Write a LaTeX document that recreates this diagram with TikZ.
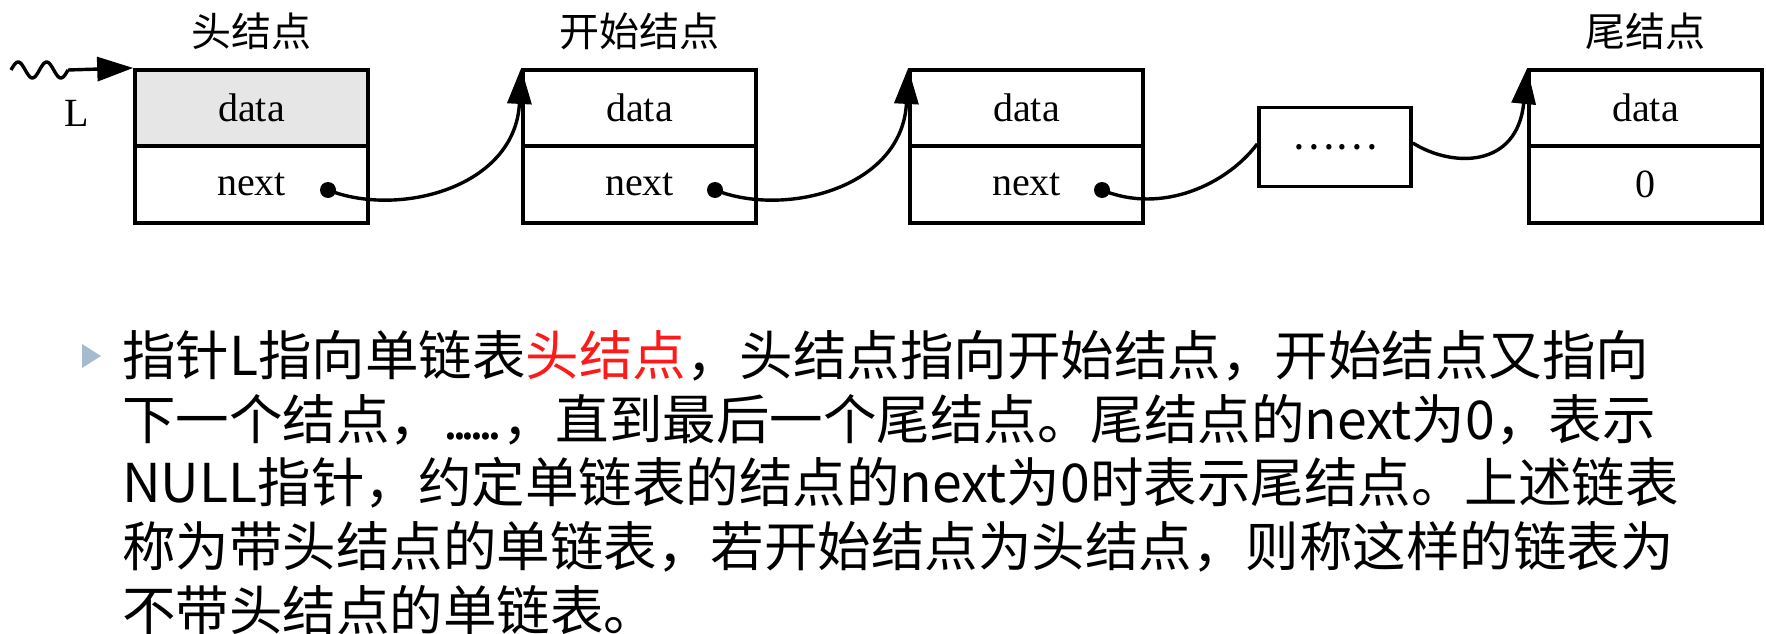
\documentclass[tikz,border=0pt]{standalone}
\usepackage{fontspec}
\setmainfont{Liberation Serif}
\newfontfamily\cjk{Noto Sans CJK SC}
\usetikzlibrary{arrows.meta}
\definecolor{headgray}{HTML}{E6E6E6}
\definecolor{bulletc}{HTML}{A6BBCF}
\definecolor{hl}{HTML}{FF1A1A}
\begin{document}
\begin{tikzpicture}[x=1pt,y=-1pt,
  cell/.style={draw, line width=3.6pt, minimum width=233pt, minimum height=76.5pt, inner sep=0pt, font=\fontsize{40}{40}\selectfont},
  dotsbox/.style={draw, line width=3.6pt, minimum width=152pt, minimum height=79pt, inner sep=0pt, font=\cjk\fontsize{40}{40}\selectfont},
  ptr/.style={circle, fill, inner sep=0pt, minimum size=16pt},
  link/.style={line width=3.4pt, -{Triangle[length=36pt,width=24pt]}},
  plain/.style={line width=3.4pt},
  lbl/.style={font=\cjk\fontsize{40}{40}\selectfont, inner sep=0pt},
  txt/.style={font=\cjk\fontsize{53.5}{63}\selectfont, inner sep=0pt, anchor=base west}]
\useasboundingbox (0,0) rectangle (1766,634);
% nodes
\node[cell, fill=headgray] (d1) at (251.5,108) {data};
\node[cell] (n1) at (251.5,184.5) {next};
\node[cell] (d2) at (639.5,108) {data};
\node[cell] (n2) at (639.5,184.5) {next};
\node[cell] (d3) at (1026.5,108) {data};
\node[cell] (n3) at (1026.5,184.5) {next};
\node[dotsbox] (dots) at (1335,147) {……};
\node[cell] (d4) at (1645.5,108) {data};
\node[cell] (n4) at (1645.5,184.5) {0};
% labels
\node[lbl] (l1) at (251.5,31) {头结点};
\node[lbl] (l2) at (639.5,31) {开始结点};
\node[lbl] (l4) at (1645.5,31) {尾结点};
\node[font=\fontsize{40}{40}\selectfont, inner sep=0pt] (L) at (77,113) {L};
% pointers
\node[ptr] (p1) at (328,190) {};
\node[ptr] (p2) at (715,190) {};
\node[ptr] (p3) at (1102,190) {};
% head pointer
\coordinate (w0) at (11,70);
\coordinate (w1) at (68,70);
\draw[plain] plot[domain=0:2, samples=50] ({11+\x*28.5}, {70-8*sin(\x*360)});
\draw[line width=3.4pt, -{Triangle[length=36pt,width=24pt]}] (w1) -- (d1.north west);
% links
\draw[link] (p1.center) .. controls +(70,28) and +(-6,120) .. (d2.north west);
\draw[link] (p2.center) .. controls +(70,28) and +(-6,120) .. (d3.north west);
\draw[plain] (p3.center) .. controls +(60,25) and +(-30,40) .. ([yshift=3pt]dots.west);
\draw[link] ([yshift=4pt]dots.east) .. controls +(40,25) and +(-10,100) .. (d4.north west);
% text block
\fill[bulletc] (82,344) -- (101,356) -- (82,368) -- cycle;
\node[txt] (t1) at (122,375) {指针L指向单链表\textcolor{hl}{头结点}，头结点指向开始结点，开始结点又指向};
\node[txt] (t2) at (122,439) {下一个结点，\hbox to 1.1em{.\hss.\hss.\hss.\hss.\hss.}，直到最后一个尾结点。尾结点的next为0，表示};
\node[txt] (t3) at (122,502) {NULL指针，约定单链表的结点的next为0时表示尾结点。上述链表};
\node[txt] (t4) at (122,566) {称为带头结点的单链表，若开始结点为头结点，则称这样的链表为};
\node[txt] (t5) at (122,630) {不带头结点的单链表。};
\end{tikzpicture}
\end{document}
